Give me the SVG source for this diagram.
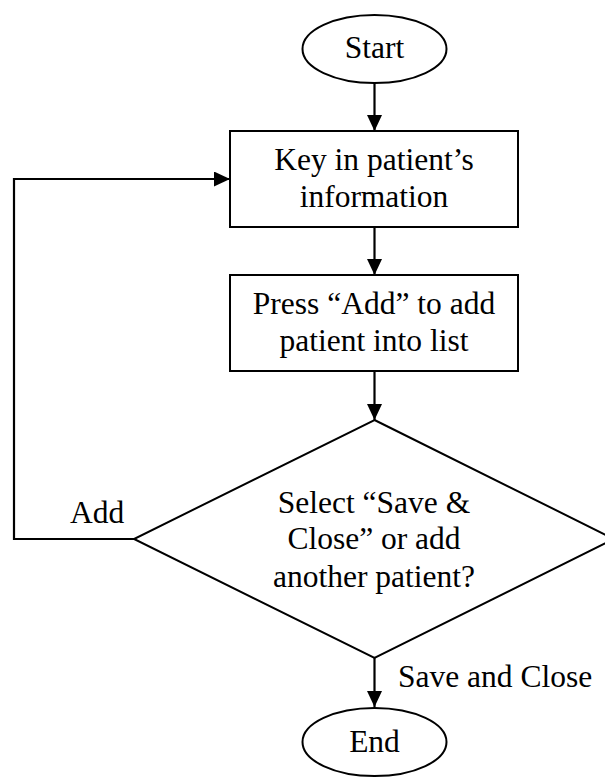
<svg xmlns="http://www.w3.org/2000/svg" width="605" height="777" viewBox="0 0 605 777">
<style>
.shape{fill:#fff;stroke:#000;stroke-width:2}
.conn{fill:none;stroke:#000;stroke-width:2.2}
text{font-family:"Liberation Serif","Times New Roman",serif;font-size:31.5px;fill:#000}
.c{text-anchor:middle}
</style>
<defs>
<marker id="arr" markerUnits="userSpaceOnUse" markerWidth="18" markerHeight="16" refX="16" refY="7.5" orient="auto">
<path d="M0,0 L16,7.5 L0,15 Z" fill="#000"/>
</marker>
</defs>
<rect width="605" height="777" fill="#fff"/>
<g id="connectors">
<line class="conn" x1="374.5" y1="83" x2="374.5" y2="131" marker-end="url(#arr)"/>
<line class="conn" x1="374.5" y1="227" x2="374.5" y2="275" marker-end="url(#arr)"/>
<line class="conn" x1="374.5" y1="371" x2="374.5" y2="420" marker-end="url(#arr)"/>
<line class="conn" x1="374.5" y1="658" x2="374.5" y2="707" marker-end="url(#arr)"/>
<polyline class="conn" points="134,539 14,539 14,179 230,179" marker-end="url(#arr)"/>
<text x="70" y="523">Add</text>
<text x="398" y="687">Save and Close</text>
</g>
<g id="start">
<ellipse class="shape" cx="374.5" cy="49" rx="72" ry="34"/>
<text class="c" x="374.5" y="58">Start</text>
</g>
<g id="key-in">
<rect class="shape" x="230" y="131" width="288" height="96"/>
<text class="c" x="374" y="170">Key in patient’s</text>
<text class="c" x="374" y="207">information</text>
</g>
<g id="press-add">
<rect class="shape" x="230" y="275" width="288" height="96"/>
<text class="c" x="374" y="314">Press “Add” to add</text>
<text class="c" x="374" y="351">patient into list</text>
</g>
<g id="decision">
<polygon class="shape" points="374.5,420 614,539 374.5,658 134,539"/>
<text class="c" x="374" y="513">Select “Save &amp;</text>
<text class="c" x="374" y="549">Close” or add</text>
<text class="c" x="374" y="587">another patient?</text>
</g>
<g id="end">
<ellipse class="shape" cx="374.5" cy="742" rx="72" ry="34"/>
<text class="c" x="374.5" y="752">End</text>
</g>
</svg>
